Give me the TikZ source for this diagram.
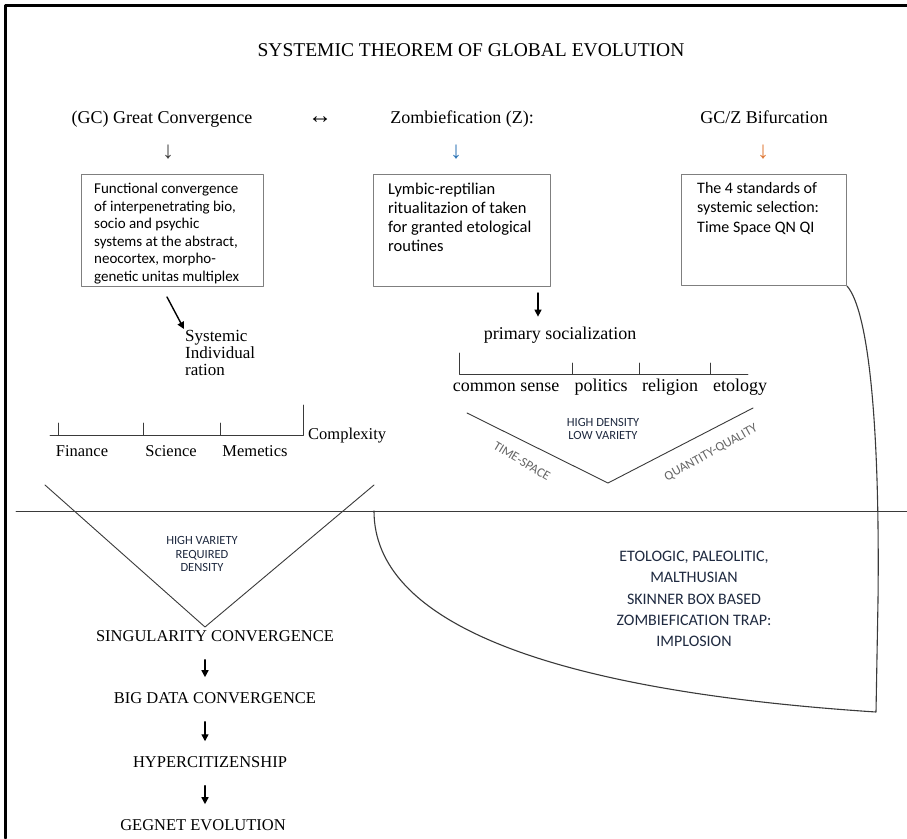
\documentclass[tikz,border=0pt]{standalone}
\usepackage{fontspec}
\setmainfont{Liberation Serif}
\newfontfamily\calib{Carlito}
\usetikzlibrary{arrows.meta}
\definecolor{boxgray}{HTML}{7F7F7F}
\definecolor{linegray}{HTML}{3A3A3A}
\definecolor{arrblue}{HTML}{2E75B6}
\definecolor{arrorange}{HTML}{E07B39}
\definecolor{navytxt}{HTML}{1F2A40}
\tikzset{
  every node/.style={inner sep=1pt},
  hdtext/.style={font=\fontsize{18}{20}\selectfont},
  glyph/.style={font=\fontsize{24}{24}\selectfont},
  boxx/.style={draw=boxgray, line width=1.1pt, anchor=north west},
  btxt/.style={anchor=north west, align=left},
  axisln/.style={draw=linegray, line width=0.9pt},
  lbl/.style={font=\fontsize{16.5}{18}\selectfont},
  bot/.style={font=\fontsize{16.5}{18}\selectfont},
  capsm/.style={font=\calib\fontsize{12.5}{13.5}\selectfont, text=navytxt, align=center},
  tilttxt/.style={font=\calib\fontsize{13}{14}\selectfont, text=black!60},
  blk/.style={-{Triangle[length=7pt,width=7pt]}, line width=1.4pt}
}
\begin{document}
\begin{tikzpicture}[x=1pt, y=-1pt, line join=round, line cap=round]
\useasboundingbox (0,0) rectangle (907,838);
\fill[white] (0,0) rectangle (907,838);
\draw[line width=3pt] (5,838) -- (5,5) -- (907,5);
% heading row
\node[font=\fontsize{19.5}{22}\selectfont, anchor=base] (title) at (471,56) {SYSTEMIC THEOREM OF GLOBAL EVOLUTION};
\node[hdtext, anchor=base] (gc) at (162,123) {(GC) Great Convergence};
\node[glyph, anchor=base] (lr) at (320,123) {↔};
\node[hdtext, anchor=base] (zz) at (462,123) {Zombiefication (Z):};
\node[hdtext, anchor=base] (bif) at (764,123) {GC/Z Bifurcation};
\node[glyph, text=black!75] (d1) at (168,152) {↓};
\node[glyph, text=arrblue] (d2) at (456,152) {↓};
\node[glyph, text=arrorange] (d3) at (763,152) {↓};
% boxes
\node[boxx, minimum width=182, minimum height=112] (b1) at (81,174) {};
\node[btxt, font=\calib\fontsize{15}{17.5}\selectfont] (t1) at (93,182) {Functional convergence\\of interpenetrating bio,\\socio and psychic\\systems at the abstract,\\neocortex, morpho-\\genetic unitas multiplex};
\node[boxx, minimum width=177, minimum height=112] (b2) at (373,174) {};
\node[btxt, font=\calib\fontsize{16.5}{19}\selectfont] (t2) at (387,182) {Lymbic-reptilian\\ritualitazion of taken\\for granted etological\\routines};
\node[boxx, minimum width=165, minimum height=111] (b3) at (681,174) {};
\node[btxt, font=\calib\fontsize{16}{19.5}\selectfont] (t3) at (696,181) {The 4 standards of\\systemic selection:\\Time Space QN QI};
% left branch
\node[btxt, font=\fontsize{17}{17}\selectfont] (sysind) at (184,329) {Systemic\\Individual\\ration};
\coordinate (a1) at (167,297);
\draw[blk] (a1) -- (sysind.north west);
\draw[axisln] (50,435) -- (303,435) -- (303,405);
\foreach \x in {58,143,220} \draw[axisln] (\x,435) -- (\x,423);
\node[lbl] (fin) at (82,451) {Finance};
\node[lbl] (sci) at (171,451) {Science};
\node[lbl] (mem) at (255,451) {Memetics};
\node[lbl, anchor=west] (cplx) at (307,436) {Complexity};
% right branch
\node[hdtext] (prim) at (560,335) {primary socialization};
\coordinate (a2) at (538,293);
\draw[blk, shorten >=9pt] (a2) -- (a2 |- prim.north);
\draw[axisln] (459,353) -- (459,374) -- (748,374);
\foreach \x in {572,639,710} \draw[axisln] (\x,374) -- (\x,363);
\node[hdtext] (cs) at (506,387) {common sense};
\node[hdtext] (pol) at (601,387) {politics};
\node[hdtext] (rel) at (670,387) {religion};
\node[hdtext] (eto) at (740,387) {etology};
% the two V's
\draw[axisln] (467,413) -- (608,483) -- (753,408);
\node[capsm] (hdlv) at (603,429) {HIGH DENSITY\\LOW VARIETY};
\node[tilttxt, rotate=-31] (ts) at (522,461) {TIME-SPACE};
\node[tilttxt, rotate=29] (qq) at (711,453) {QUANTITY-QUALITY};
\draw[axisln] (45,485) -- (205,627) -- (374,485);
\node[capsm] (hvrd) at (202,554) {HIGH VARIETY\\REQUIRED\\DENSITY};
\draw[axisln] (16,511) -- (907,511);
% trap
\coordinate (trapL) at (374,511);
\coordinate (trapR) at (876,712);
\draw[draw=linegray, line width=1.1pt] (b3.south east) .. controls (868,310) and (880,420) .. (878,600) -- (trapR) .. controls (540,690) and (374,620) .. (trapL);
\node[font=\calib\fontsize{16}{21.3}\selectfont, text=navytxt, align=center] (trap) at (694,599) {ETOLOGIC, PALEOLITIC,\\MALTHUSIAN\\SKINNER BOX BASED\\ZOMBIEFICATION TRAP:\\IMPLOSION};
% convergence chain
\coordinate (spine) at (205,0);
\node[bot] (sing) at (215,636) {SINGULARITY CONVERGENCE};
\node[bot] (bigd) at (215,698) {BIG DATA CONVERGENCE};
\node[bot] (hyper) at (210,762) {HYPERCITIZENSHIP};
\node[bot] (gegnet) at (203,825) {GEGNET EVOLUTION};
\foreach \a/\b in {sing/bigd,bigd/hyper,hyper/gegnet}
  \draw[blk, shorten <=17pt, shorten >=14pt] (\a.south -| spine) -- (\b.north -| spine);
\end{tikzpicture}
\end{document}
